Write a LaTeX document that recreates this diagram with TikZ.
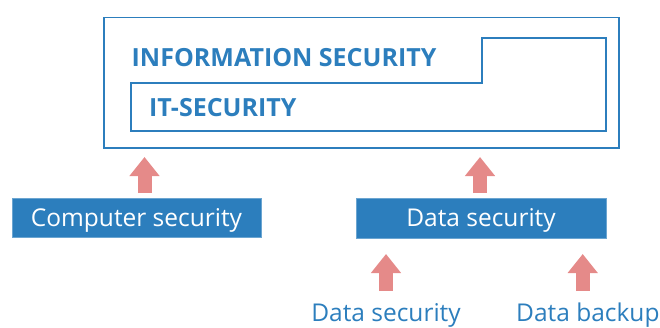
\documentclass[tikz,border=0pt]{standalone}
\usepackage{fontspec}
\setmainfont{Open Sans}
\usetikzlibrary{arrows.meta}
\definecolor{secblue}{HTML}{2C7EBD}
\definecolor{secpink}{HTML}{E58A89}
\tikzset{
  frame/.style={draw=secblue, line width=1.6pt},
  title/.style={anchor=base west, inner sep=0pt, text=secblue, font=\fontsize{25}{29}\selectfont\bfseries},
  bluebox/.style={fill=secblue, draw=secblue!70, line width=0.5pt, inner sep=0pt},
  boxtext/.style={anchor=base, inner sep=0pt, text=white, font=\fontsize{24.5}{28}\selectfont},
  lbl/.style={anchor=base, inner sep=0pt, text=secblue, font=\fontsize{24.5}{28}\selectfont},
  blockarrow/.style={draw=secpink, line width=14pt, -{Triangle[width=29pt,length=19pt]}}
}
\begin{document}
\begin{tikzpicture}[x=1pt,y=-1pt]
\useasboundingbox (0,0) rectangle (660,327);
% outer frame
\draw[frame] (104,17.5) rectangle (619,148);
% inner IT-security stepped outline
\draw[frame] (131,83) -- (482,83) -- (482,38) -- (606,38) -- (606,131) -- (131,131) -- cycle;
\node[title] (info) at (131.5,66) {INFORMATION SECURITY};
\node[title] (itsec) at (149,116) {IT-SECURITY};
% blue boxes
\node[bluebox, minimum width=249pt, minimum height=39.5pt] (cs) at (136.5,217.8) {};
\node[boxtext] (cstext) at (136.5,226) {Computer security};
\node[bluebox, minimum width=250pt, minimum height=39.5pt] (ds) at (481.3,218.3) {};
\node[boxtext] (dstext) at (481,226.5) {Data security};
% bottom labels
\node[lbl] (dsl) at (386,321.5) {Data security};
\node[lbl, anchor=base west] (dbl) at (516,321.5) {Data backup};
% arrow anchor coordinates
\coordinate (a1s) at (144.5,193);
\coordinate (a1e) at (144.5,157);
\coordinate (a2s) at (480,193);
\coordinate (a2e) at (480,157);
\coordinate (a3s) at (386,291);
\coordinate (a3e) at (386,254);
\coordinate (a4s) at (582.7,291);
\coordinate (a4e) at (582.7,254);
\draw[blockarrow] (a1s) -- (a1e);
\draw[blockarrow] (a2s) -- (a2e);
\draw[blockarrow] (a3s) -- (a3e);
\draw[blockarrow] (a4s) -- (a4e);
\end{tikzpicture}
\end{document}
